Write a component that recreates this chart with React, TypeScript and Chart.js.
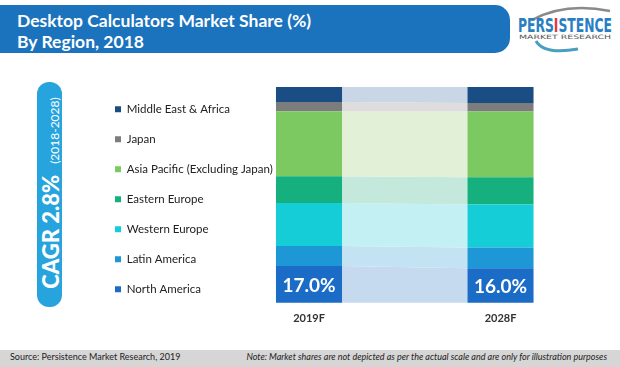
import React, { useEffect, useRef } from "react";
import { Chart, registerables } from "chart.js";

Chart.register(...registerables);

const categories = ["2019F", "2028F"];
const regions = [
  "North America",
  "Latin America",
  "Western Europe",
  "Eastern Europe",
  "Asia Pacific (Excluding Japan)",
  "Japan",
  "Middle East & Africa",
];
const northAmerica = [17.0, 16.0];
const latinAmerica = [9.3, 9.6];
const westernEurope = [19.9, 20.0];
const easternEurope = [12.5, 12.6];
const asiaPacific = [30.1, 30.4];
const japan = [4.2, 4.0];
const middleEastAfrica = [7.0, 7.4];
const seriesValues = [northAmerica, latinAmerica, westernEurope, easternEurope, asiaPacific, japan, middleEastAfrica];

const colors = ["#1a6cc6", "#1d97d6", "#15cdd6", "#16b07e", "#7cc962", "#7c7c7c", "#1b4d85"];
const bandColors = ["#c6daef", "#c3e3f3", "#c3f0f2", "#c4e8dc", "#e1f0d7", "#dedcdc", "#c8d6e6"];

const CANVAS_LEFT = 90;
const PLOT_LEFT = 309;

const bandPlugin = {
  id: "band",
  beforeDatasetsDraw(chart: any) {
    const ctx = chart.ctx;
    chart.data.datasets.forEach((ds: any, i: number) => {
      const meta = chart.getDatasetMeta(i);
      if (meta.hidden) return;
      const e0 = meta.data[0];
      const e1 = meta.data[1];
      if (!e0 || !e1) return;
      const x0 = e0.x + e0.width / 2;
      const x1 = e1.x - e1.width / 2;
      ctx.save();
      ctx.fillStyle = ds.bandColor;
      ctx.beginPath();
      ctx.moveTo(x0, e0.y);
      ctx.lineTo(x1, e1.y);
      ctx.lineTo(x1, e1.base);
      ctx.lineTo(x0, e0.base);
      ctx.closePath();
      ctx.fill();
      ctx.restore();
    });
  },
};

const labelPlugin = {
  id: "naLabels",
  afterDatasetsDraw(chart: any) {
    const ctx = chart.ctx;
    const meta = chart.getDatasetMeta(0);
    const ds = chart.data.datasets[0];
    ctx.save();
    ctx.fillStyle = "#ffffff";
    ctx.font = "bold 19px Lato";
    ctx.textAlign = "center";
    ctx.textBaseline = "middle";
    meta.data.forEach((el: any, j: number) => {
      const v = ds.data[j];
      ctx.fillText(v.toFixed(1) + "%", el.x, (el.y + el.base) / 2 + 1);
    });
    ctx.restore();
  },
};

export default function App() {
  const ref = useRef<HTMLCanvasElement>(null);
  useEffect(() => {
    const chart: any = new Chart(ref.current!, {
      type: "bar",
      data: {
        labels: categories,
        datasets: regions.map((r, i) => ({
          label: r,
          data: seriesValues[i],
          backgroundColor: colors[i],
          bandColor: bandColors[i],
          borderWidth: 0,
          categoryPercentage: 1,
          barPercentage: 0.345,
          clip: false,
        })) as any,
      },
      options: {
        animation: false,
        responsive: false,
        maintainAspectRatio: false,
        layout: { padding: { top: 15, bottom: 3, left: 6.5, right: 119.5 } },
        plugins: {
          tooltip: { enabled: false },
          title: { display: true, text: "", fullSize: false, padding: 0, font: { size: 2, lineHeight: 1 } },
          legend: {
            position: "left",
            align: "start",
            reverse: true,
            labels: {
              boxWidth: 6,
              boxHeight: 6,
              padding: 18.5,
              color: "#222",
              font: { family: "Lato", size: 11.5 },
            },
          },
        },
        scales: {
          x: {
            stacked: true,
            offset: false,
            grid: { display: false, drawTicks: false },
            border: { display: false },
            ticks: { color: "#333", padding: 9, font: { family: "Lato", size: 11, weight: "bold" } },
          },
          y: {
            display: false,
            stacked: true,
            min: 0,
            max: 100,
            afterFit: (s: any) => {
              const lw = s.chart.legend ? s.chart.legend.width : 0;
              s.width = Math.max(0, PLOT_LEFT - CANVAS_LEFT - 6.5 - lw);
            },
          },
        },
      },
      plugins: [bandPlugin, labelPlugin],
    });
    return () => chart.destroy();
  }, []);

  return (
    <div style={{ position: "fixed", left: 0, top: 0, width: 620, height: 367, background: "#fff", overflow: "hidden", fontFamily: "Lato" }}>
      <div style={{ position: "absolute", left: 0, top: 5, width: 510, height: 48, background: "#1b72bd", borderRadius: "0 15px 15px 0" }} />
      <div style={{ position: "absolute", left: 17, top: 10, color: "#fff", fontWeight: 700, fontSize: 17.5, lineHeight: "21px" }}>
        Desktop Calculators Market Share (%)
        <br />
        By Region, 2018
      </div>
      <svg style={{ position: "absolute", left: 510, top: 0 }} width={110} height={60}>
        <path d="M 22 20 Q 55 2 100 11" stroke="#8a8a8a" strokeWidth={2.5} fill="none" />
        <text x={8} y={32} fontFamily="DejaVu Sans Condensed" fontWeight="bold" fontSize={19} fill="#2a7fc4" textLength={94} lengthAdjust="spacingAndGlyphs">
          PERS<tspan fill="#e03a3a">I</tspan>STENCE
        </text>
        <text x={9} y={39} fontFamily="DejaVu Sans" fontSize={6} fill="#555" textLength={92} lengthAdjust="spacingAndGlyphs">MARKET RESEARCH</text>
        <path d="M 26 41 Q 34 55 68 49" stroke="#4a9fc0" strokeWidth={3} fill="none" />
      </svg>
      <div style={{ position: "absolute", left: 37, top: 82, width: 25, height: 225, background: "#27a4dd", borderRadius: 12 }} />
      <div style={{ position: "absolute", left: 50, top: 193, width: 0, height: 0 }}>
        <div style={{ position: "absolute", left: 0, top: 0, transform: "translate(-50%, -50%) rotate(-90deg)", whiteSpace: "nowrap", color: "#fff", display: "flex", alignItems: "baseline" }}>
          <span style={{ fontWeight: 900, fontSize: 22 }}>CAGR 2.8%</span>
          <span style={{ fontWeight: 400, fontSize: 12, marginLeft: 11 }}>(2018-2028)</span>
        </div>
      </div>
      <canvas ref={ref} width={530} height={267} style={{ position: "absolute", left: CANVAS_LEFT, top: 70, width: 530, height: 267 }} />
      <div style={{ position: "absolute", left: 0, top: 350, width: 620, height: 17, background: "#d6d6d6" }} />
      <div style={{ position: "absolute", left: 10, top: 351, fontSize: 9, color: "#222", lineHeight: "12px" }}>Source: Persistence Market Research, 2019</div>
      <div style={{ position: "absolute", right: 13, top: 351, fontSize: 9, color: "#222", fontStyle: "italic", lineHeight: "12px" }}>Note: Market shares are not depicted as per the actual scale and are only for illustration purposes</div>
    </div>
  );
}
